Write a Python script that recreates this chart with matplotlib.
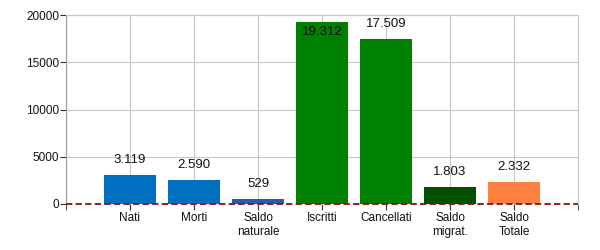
import matplotlib
matplotlib.use("Agg")
import matplotlib.pyplot as plt

categories = ["Nati", "Morti", "Saldo\nnaturale", "Iscritti", "Cancellati", "Saldo\nmigrat.", "Saldo\nTotale"]
values = [3119, 2590, 529, 19312, 17509, 1803, 2332]
labels = ["3.119", "2.590", "529", "19.312", "17.509", "1.803", "2.332"]
colors = ["#0070C0", "#0070C0", "#2F5AA6", "#008000", "#008000", "#005000", "#FF8040"]

plt.rcParams['font.family'] = ['Liberation Sans', 'DejaVu Sans']
fig = plt.figure(figsize=(6, 2.5), dpi=100)
ax = fig.add_axes([66/600, 1-204/250, (578-66)/600, (204-15)/250])

x = list(range(1, len(values) + 1))
ax.bar(x, values, width=0.8, color=colors, zorder=3)
ax.set_xlim(0, 8)
ax.set_ylim(0, 20000)
ax.set_yticks([0, 5000, 10000, 15000, 20000])
ax.set_xticks(x)
ax.set_xticklabels(categories, fontsize=8.5, color='#111111')
ax.tick_params(axis='y', labelsize=8.5, length=4, color='#333333', pad=1, labelcolor='#111111')
ax.tick_params(axis='x', length=4, color='#333333', pad=2)
ax.set_xticks([0, 8], minor=True)
ax.tick_params(axis='x', which='minor', length=4, color='#333333')
ax.set_axisbelow(True)
for gx in range(0, 9):
    ax.axvline(gx, color='#c8c8c8', linewidth=0.8, zorder=0)
ax.grid(True, which='major', axis='y', color='#c8c8c8', linewidth=0.8, zorder=0)
ax.grid(False, which='major', axis='x')
for s in ['top', 'right']:
    ax.spines[s].set_color('#c8c8c8')
    ax.spines[s].set_linewidth(0.8)
ax.spines['left'].set_color('#999999')
ax.spines['bottom'].set_visible(False)
ax.axhline(0, color='#8B1010', linestyle='--', linewidth=1.3, zorder=4, dashes=(3.5, 1.8), clip_on=False)

for xi, v, lab in zip(x, values, labels):
    if v > 18500:
        ax.text(xi, v - 500, lab, ha='center', va='top', fontsize=9.5, color='#111111', zorder=5)
    else:
        ax.text(xi, v + 900, lab, ha='center', va='bottom', fontsize=9.5, color='#111111', zorder=5)

fig.savefig("out.png", dpi=100)
